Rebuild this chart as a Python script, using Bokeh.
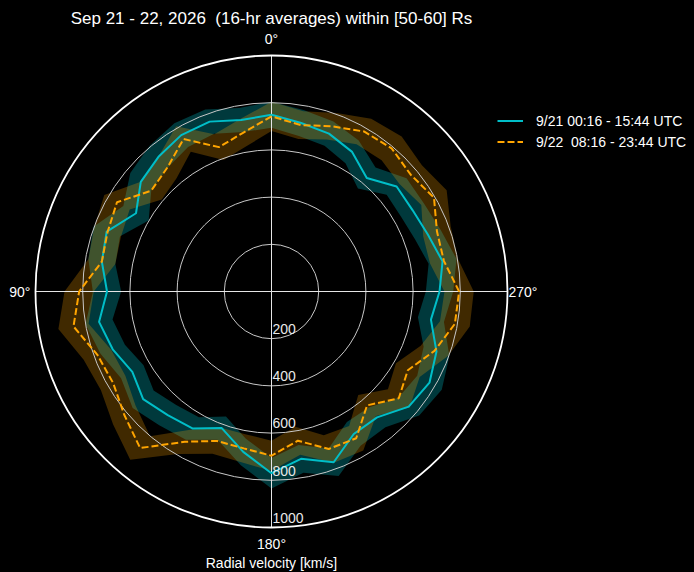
import numpy as np
from bokeh.plotting import figure
from bokeh.models import Range1d, Legend, LegendItem, Label, ColumnDataSource
from bokeh.core.properties import value
from bokeh.embed import file_html
from bokeh.resources import INLINE

# ---------------- data ----------------
theta_deg = list(range(0, 360, 10))

v_day1 = [749, 738, 766, 765, 745, 723, 663, 743, 730, 697,
          742, 716, 681, 710, 684, 670, 616, 690, 770, 720,
          770, 697, 696, 759, 773, 744, 686, 712, 736, 705,
          690, 692, 628, 683, 712, 725]
sd_day1 = [55, 52, 55, 58, 60, 58, 62, 60, 58, 60,
           58, 55, 55, 58, 56, 55, 52, 58, 65, 60,
           62, 58, 55, 58, 60, 58, 56, 58, 60, 58,
           56, 55, 58, 56, 55, 56]

v_day2 = [742, 684, 651, 746, 686, 665, 756, 739, 730, 815,
          852, 785, 775, 814, 866, 735, 674, 675, 696, 642,
          710, 718, 630, 704, 667, 735, 789, 795, 742, 746,
          795, 770, 792, 783, 745, 716]
sd_day2 = [62, 60, 58, 62, 60, 58, 62, 60, 58, 62,
           65, 62, 60, 62, 65, 60, 58, 60, 64, 60,
           62, 60, 58, 60, 58, 62, 64, 62, 60, 62,
           62, 62, 66, 62, 60, 60]

r_ticks = [200, 400, 600, 800, 1000]
r_tick_labels = ["200", "400", "600", "800", "1000"]
theta_ticks = [0, 90, 180, 270]
theta_tick_labels = ["0°", "90°", "180°", "270°"]

label_day1 = "9/21 00:16 - 15:44 UTC"
label_day2 = "9/22\u00a0 08:16 - 23:44 UTC"
title_text = "Sep 21 - 22, 2026\u00a0 (16-hr averages) within [50-60] Rs"
rlabel_text = "Radial velocity [km/s]"

# ---------------- layout ----------------
W, H = 694, 572
CX, CY = 271, 291          # polar centre in screen px
PX = 0.236                 # px per km/s
RMAX = 1000
FONT = "Liberation Sans"
CYAN = "#00bec8"
ORANGE = "#ffa500"

p = figure(width=W, height=H,
           x_range=Range1d(-CX / PX, (W - CX) / PX),
           y_range=Range1d(-(H - CY) / PX, CY / PX),
           output_backend="svg", toolbar_location=None,
           x_axis_location=None, y_axis_location=None,
           min_border=0, background_fill_color="black",
           border_fill_color="black", outline_line_color=None)
p.xgrid.visible = False
p.ygrid.visible = False
p.grid.grid_line_color = None


def polar(theta, r):
    t = np.radians(np.asarray(theta, dtype=float))
    r = np.asarray(r, dtype=float)
    return -r * np.sin(t), r * np.cos(t)


def band(theta, v, sd):
    v = np.asarray(v, float)
    sd = np.asarray(sd, float)
    ox, oy = polar(theta, v + sd)
    ix, iy = polar(theta, v - sd)
    return [[[list(ox), list(ix)[::-1]]]], [[[list(oy), list(iy)[::-1]]]]


# bands
bx, by = band(theta_deg, v_day1, sd_day1)
p.multi_polygons(xs=bx, ys=by, fill_color=CYAN, fill_alpha=0.3, line_color=None)
bx, by = band(theta_deg, v_day2, sd_day2)
p.multi_polygons(xs=bx, ys=by, fill_color=ORANGE, fill_alpha=0.25, line_color=None)

# grid rings
inner = [r for r in r_ticks if r < RMAX]
p.circle(x=[0] * len(inner), y=[0] * len(inner), radius=inner,
         fill_color=None, line_color="#c8c8c8", line_width=1)
# theta grid lines
ex, ey = polar(theta_ticks, [RMAX] * len(theta_ticks))
p.segment(x0=[0] * len(theta_ticks), y0=[0] * len(theta_ticks), x1=ex, y1=ey,
          line_color="#e6e6e6", line_width=1)
# outer spine
p.circle(x=[0], y=[0], radius=[RMAX], fill_color=None,
         line_color="white", line_width=1.8)

# lines (closed loops)
th_closed = theta_deg + [theta_deg[0]]
x1, y1 = polar(th_closed, v_day1 + [v_day1[0]])
r1 = p.line(x1, y1, line_color=CYAN, line_width=2)
x2, y2 = polar(th_closed, v_day2 + [v_day2[0]])
r2 = p.line(x2, y2, line_color=ORANGE, line_width=2, line_dash="7 3")

# radial tick labels
rsrc = ColumnDataSource(dict(x=[4.0] * len(r_ticks),
                             y=[-r + 41 for r in r_ticks],
                             t=r_tick_labels))
p.text(x="x", y="y", text="t", source=rsrc, text_color="#e8e8e8",
       text_font=value(FONT), text_font_size="14px",
       text_align="left", text_baseline="alphabetic")

# theta tick labels
lab_r = {0: 1072, 90: 1022, 180: 1068, 270: 1004}
align = {0: "center", 90: "right", 180: "center", 270: "left"}
for th, lab in zip(theta_ticks, theta_tick_labels):
    tx, ty = polar([th], [lab_r[th]])
    p.add_layout(Label(x=float(tx[0]), y=float(ty[0]), text=lab,
                       text_color="white", text_font=FONT, text_font_size="14px",
                       text_align=align[th], text_baseline="middle"))

# title and radial axis label
p.add_layout(Label(x=CX, y=H - 18, x_units="screen", y_units="screen",
                   text=title_text, text_color="white", text_font=FONT,
                   text_font_size="17px", text_align="center", text_baseline="middle"))
p.add_layout(Label(x=CX, y=H - 562, x_units="screen", y_units="screen",
                   text=rlabel_text, text_color="white", text_font=FONT,
                   text_font_size="14px", text_align="center", text_baseline="middle"))

# legend
legend = Legend(items=[LegendItem(label=label_day1, renderers=[r1]),
                       LegendItem(label=label_day2, renderers=[r2])],
                location=(497, H - 150), padding=0, margin=0,
                glyph_width=26, glyph_height=17, label_height=17, spacing=4,
                label_standoff=13, label_text_color="white",
                label_text_font=FONT, label_text_font_size="14px",
                background_fill_alpha=0, border_line_color=None)
p.add_layout(legend)

html = file_html(p, INLINE)
html = html.replace("</head>",
                    "<style>html,body{margin:0;padding:0;background:#000;overflow:hidden}</style></head>", 1)
open("out.html", "w").write(html)
